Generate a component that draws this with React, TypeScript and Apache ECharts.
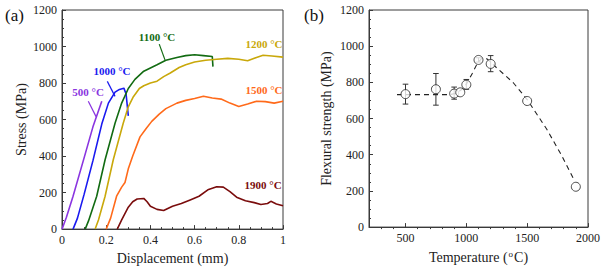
import React, { useEffect, useRef } from "react";
import * as echarts from "echarts";

// ---------- Panel (a): stress–displacement curves ----------
const d500 = [0, 0.02, 0.05, 0.1, 0.14, 0.18];
const s500 = [0, 65, 180, 390, 560, 700];

const d1000 = [0.05, 0.07, 0.1, 0.14, 0.18, 0.21, 0.24, 0.26, 0.28, 0.29, 0.3];
const s1000 = [0, 60, 190, 375, 575, 690, 750, 765, 772, 740, 620];

const d1100 = [0.105, 0.12, 0.157, 0.195, 0.24, 0.27, 0.3, 0.33, 0.37, 0.43, 0.47, 0.52, 0.56, 0.6, 0.64, 0.68, 0.683];
const s1100 = [0, 45, 180, 380, 580, 690, 770, 820, 865, 900, 925, 940, 950, 955, 950, 945, 890];

const d1200 = [0.15, 0.165, 0.195, 0.232, 0.277, 0.3, 0.323, 0.35, 0.37, 0.4, 0.43, 0.46, 0.49, 0.53, 0.56, 0.6, 0.65, 0.7, 0.75, 0.8, 0.84, 0.88, 0.91, 0.95, 1];
const s1200 = [0, 50, 180, 380, 580, 670, 725, 770, 785, 800, 810, 835, 855, 885, 900, 915, 925, 930, 935, 930, 922, 940, 952, 948, 942];

const d1500 = [0.2, 0.22, 0.247, 0.27, 0.285, 0.3, 0.32, 0.353, 0.38, 0.406, 0.44, 0.47, 0.52, 0.56, 0.6, 0.64, 0.68, 0.72, 0.76, 0.8, 0.84, 0.88, 0.92, 0.96, 1];
const s1500 = [0, 60, 180, 230, 255, 330, 400, 505, 550, 590, 630, 660, 690, 705, 715, 728, 718, 712, 690, 672, 685, 700, 698, 690, 700];

const d1900 = [0.25, 0.27, 0.3, 0.32, 0.34, 0.37, 0.385, 0.4, 0.43, 0.46, 0.5, 0.54, 0.58, 0.62, 0.66, 0.7, 0.73, 0.76, 0.79, 0.83, 0.87, 0.9, 0.93, 0.945, 0.97, 1];
const s1900 = [0, 50, 120, 150, 165, 168, 150, 125, 108, 102, 125, 140, 160, 180, 215, 232, 230, 205, 175, 155, 145, 135, 140, 152, 138, 128];

const curveNames = ["500 °C", "1000 °C", "1100 °C", "1200 °C", "1500 °C", "1900 °C"];
const curveColors = ["#8a35e0", "#1a1af0", "#126b12", "#c9a80a", "#ff6a1a", "#7a0c0c"];
const curveD = [d500, d1000, d1100, d1200, d1500, d1900];
const curveS = [s500, s1000, s1100, s1200, s1500, s1900];

// label anchors (data coordinates, panel a)
const labelD = [0.118, 0.226, 0.43, 0.914, 0.914, 0.91];
const labelS = [753, 867, 1050, 1015, 764, 240];
// leader lines for 500, 1000, 1100 °C
const leaderD1 = [0.119, 0.205, 0.44];
const leaderS1 = [700, 809, 1013];
const leaderD2 = [0.154, 0.24, 0.466];
const leaderS2 = [616, 727, 927];

// ---------- Panel (b): flexural strength vs temperature ----------
const tempC = [500, 750, 900, 950, 1000, 1100, 1200, 1500, 1900];
const strength = [735, 762, 738, 745, 787, 924, 902, 697, 223];

const errTemp = [500, 750, 900, 1000, 1100, 1200];
const errLow = [680, 674, 707, 762, 912, 859];
const errHigh = [790, 849, 774, 816, 936, 948];

const fitTemp = [430, 860, 920, 970, 1000, 1050, 1090, 1130, 1170, 1250, 1386, 1500, 1660, 1780, 1880];
const fitStrength = [732, 732, 740, 765, 790, 850, 905, 935, 930, 880, 798, 705, 542, 400, 268];

const tempMajorTicks = [500, 1000, 1500, 2000];
const tempMinorTicks = [300, 400, 600, 700, 800, 900, 1100, 1200, 1300, 1400, 1600, 1700, 1800, 1900];

const SERIF = "Liberation Serif";
const AX = "#3a3a3a";

export default function App() {
  const ref = useRef<HTMLDivElement>(null);

  useEffect(() => {
    if (!ref.current) return;
    const chart = echarts.init(ref.current, null, { renderer: "svg" });

    const plain = (v: number) => String(v);

    const axisBase = (extra: any = {}) => ({
      axisLine: { show: true, onZero: false, lineStyle: { color: AX, width: 1 } },
      axisTick: { show: true, inside: true, length: 4, lineStyle: { color: AX, width: 1 } },
      minorTick: { show: true, splitNumber: 4, length: 2, lineStyle: { color: AX, width: 1 } },
      splitLine: { show: false },
      axisLabel: { color: "#222", fontFamily: SERIF, fontSize: 12, margin: 5, formatter: plain },
      nameLocation: "middle",
      nameTextStyle: { color: "#222", fontFamily: SERIF, fontSize: 14 },
      ...extra,
    });

    const curveSeries = curveD.map((d, i) => ({
      type: "line",
      name: curveNames[i],
      xAxisIndex: 0,
      yAxisIndex: 0,
      symbol: "none",
      showSymbol: false,
      lineStyle: { color: curveColors[i], width: 1.6 },
      itemStyle: { color: curveColors[i] },
      data: d.map((x, k) => [x, curveS[i][k]]),
      z: 2,
    }));

    const option: any = {
      animation: false,
      backgroundColor: "#fff",
      textStyle: { fontFamily: SERIF },
      grid: [
        { left: 62, right: 320, top: 10, bottom: 40, show: true, borderColor: AX, borderWidth: 1, backgroundColor: "transparent" },
        { left: 369, right: 15, top: 10, bottom: 41, show: true, borderColor: AX, borderWidth: 1, backgroundColor: "transparent" },
      ],
      xAxis: [
        axisBase({
          type: "value", gridIndex: 0, min: 0, max: 1, interval: 0.2,
          name: "Displacement (mm)", nameGap: 20,
        }),
        axisBase({
          type: "value", gridIndex: 1, min: 200, max: 2000,
          axisTick: { show: true, inside: true, length: 4, customValues: tempMajorTicks, lineStyle: { color: AX, width: 1 } },
          axisLabel: { color: "#222", fontFamily: SERIF, fontSize: 12, margin: 5, customValues: tempMajorTicks, formatter: plain },
          minorTick: { show: false },
          name: "Temperature ({s|o}C)", nameGap: 20,
          nameTextStyle: {
            color: "#222", fontFamily: SERIF, fontSize: 14, lineHeight: 16,
            rich: { s: { fontFamily: SERIF, fontSize: 9, color: "#222", verticalAlign: "top", lineHeight: 16, padding: [0, 1, 6, 1] } },
          },
        }),
        {
          type: "value", gridIndex: 1, min: 200, max: 2000,
          axisLine: { show: false },
          axisTick: { show: true, inside: true, length: 2, customValues: tempMinorTicks, lineStyle: { color: AX, width: 1 } },
          axisLabel: { show: false },
          splitLine: { show: false },
        },
      ],
      yAxis: [
        axisBase({
          type: "value", gridIndex: 0, min: 0, max: 1200, interval: 200,
          name: "Stress (MPa)", nameGap: 34,
        }),
        axisBase({
          type: "value", gridIndex: 1, min: 0, max: 1200, interval: 200,
          name: "Flexural strength (MPa)", nameGap: 36,
        }),
      ],
      series: [
        ...curveSeries,
        {
          type: "line",
          xAxisIndex: 1,
          yAxisIndex: 1,
          symbol: "none",
          showSymbol: false,
          lineStyle: { color: "#222", width: 1.1, type: [5, 4] },
          data: fitTemp.map((t, k) => [t, fitStrength[k]]),
          z: 1,
        },
        {
          type: "custom",
          xAxisIndex: 1,
          yAxisIndex: 1,
          encode: { x: 0, y: [1, 2] },
          data: errTemp.map((t, k) => [t, errLow[k], errHigh[k]]),
          renderItem: (params: any, api: any) => {
            const x = api.value(0);
            const lo = api.coord([x, api.value(1)]);
            const hi = api.coord([x, api.value(2)]);
            const w = 2.8;
            const st = { stroke: "#333", lineWidth: 1 };
            return {
              type: "group",
              children: [
                { type: "line", shape: { x1: lo[0], y1: lo[1], x2: hi[0], y2: hi[1] }, style: st },
                { type: "line", shape: { x1: lo[0] - w, y1: lo[1], x2: lo[0] + w, y2: lo[1] }, style: st },
                { type: "line", shape: { x1: hi[0] - w, y1: hi[1], x2: hi[0] + w, y2: hi[1] }, style: st },
              ],
            };
          },
          z: 2,
        },
        {
          type: "scatter",
          xAxisIndex: 1,
          yAxisIndex: 1,
          symbol: "circle",
          symbolSize: 9,
          itemStyle: { color: "#fff", borderColor: "#222", borderWidth: 1 },
          data: tempC.map((t, k) => [t, strength[k]]),
          z: 3,
        },
      ],
    };

    chart.setOption(option);

    const toPx = (p: number[]) => chart.convertToPixel({ gridIndex: 0 }, p) as number[];
    const graphics: any[] = [];
    curveNames.forEach((name, i) => {
      const p = toPx([labelD[i], labelS[i]]);
      graphics.push({
        type: "text",
        x: p[0],
        y: p[1],
        style: {
          text: name,
          fill: curveColors[i],
          font: `bold 11px ${SERIF}`,
          align: "center",
          verticalAlign: "middle",
        },
        z: 10,
      });
    });
    leaderD1.forEach((_, i) => {
      const a = toPx([leaderD1[i], leaderS1[i]]);
      const b = toPx([leaderD2[i], leaderS2[i]]);
      graphics.push({
        type: "line",
        shape: { x1: a[0], y1: a[1], x2: b[0], y2: b[1] },
        style: { stroke: curveColors[i], lineWidth: 1.2 },
        z: 10,
      });
    });
    graphics.push({
      type: "text", left: 5, top: 7,
      style: { text: "(a)", fill: "#111", font: `17px ${SERIF}` },
    });
    graphics.push({
      type: "text", left: 304, top: 7,
      style: { text: "(b)", fill: "#111", font: `17px ${SERIF}` },
    });
    chart.setOption({ graphic: graphics });

    return () => chart.dispose();
  }, []);

  return (
    <div
      ref={ref}
      style={{ position: "absolute", left: 0, top: 0, width: 603, height: 270, background: "#fff" }}
    />
  );
}
